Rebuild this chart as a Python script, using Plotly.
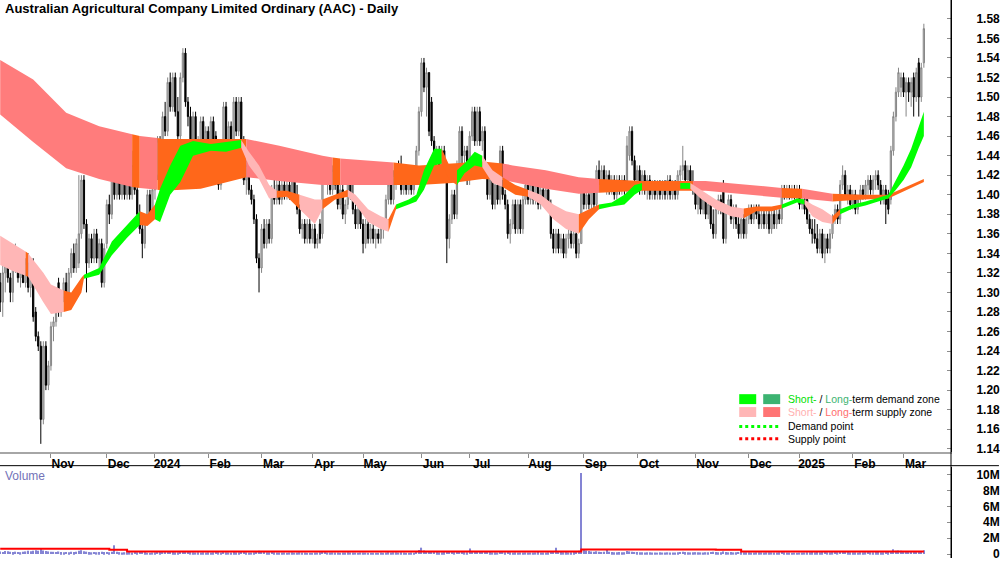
import pandas as pd
import plotly.graph_objects as go

TITLE = "Australian Agricultural Company Limited Ordinary (AAC) - Daily"

# ---------------- OHLC data (cents), one list per month: (open, high, low, close)
oct23 = [(131,132,128,129),(129,133,127.5,132),(132,134,130,133),(134,135,131,131.5),(131.5,132,129,130),
         (130,133,129,132.5),(132.5,135,132,134),(134,134.5,131,131.5),(131.5,132.5,130.5,132),(132,133,131,131),
         (131,133.5,130.5,133),(133,134,130,130.5),(130.5,133.5,129.5,133),(133,133.5,127,127.5),(128,128.5,125,125.5),
         (125.5,126,124,124.5),(124.5,125,114.5,117),(117,125,116.5,124.5),(124.5,125,120,120.5),(120.5,123,120,122.5)]
nov23 = [(122.5,127,122,126.5),(126.5,127.5,125,127),(127,130.5,126.5,130),(131,131.5,127.5,128),(128,130,127.5,129.5),
         (129.5,131.5,129,131),(131,132,129,129.5),(129.5,132.5,129,132),(132,134.5,131.5,134),(134,135,132,132.5),
         (132.5,135.5,132,135),(133,142,132.5,136),(136,142,135.5,141.5),(141.5,142,136.5,137),(137,137.5,130,133),
         (133,136,132.5,135.5),(135.5,136,133,133.5),(133.5,136.5,133,136),(136,136.5,133,133.5),(133.5,135.5,132,135),
         (135,135.5,130.5,131),(131,135,130.5,134.5)]
dec23 = [(135,139.5,134.5,139),(139,140,137,138),(138,144.5,137.5,142),(142,143,139.5,140),(140,142.5,139.5,142),
         (142,142.5,139.5,140),(140,143,139.5,141.5),(141.5,142,139.5,140),(140,143.5,139.5,141.5),(141.5,142,139.5,140),
         (140,144.5,139.5,143),(143,143.5,140,140.5),(140.5,142,137.5,138),(138,139,136,136.5),(136.5,137,133.5,135),
         (135,138,134.5,137.5),(137.5,140.5,137,140),(140,140.5,137.5,138),(138,141,137.5,140.5)]
jan24 = [(140.5,142.5,139.5,142),(142,146,141.5,145.5),(145.5,146,142,142.5),(142.5,148.5,142,148),(148,149.5,146,146.5),
         (146.5,152,146,151.5),(151.5,152.5,148.5,149),(149,152.5,148.5,152),(152,152.5,148,148.5),(148.5,150,145,146),
         (146,152.5,145.5,152),(152,155,151.5,154.5),(154.5,155,149,149.5),(149.5,150,147,148),(148,149,143,144),
         (144,148.5,143.5,148),(148,148.5,143,143.5),(143.5,146,143,145.5),(145.5,148,144.5,147.5),(147.5,148,144,144.5),
         (144.5,147,144,146.5)]
feb24 = [(146.5,147,144,145),(145,148,144.5,147.5),(147.5,148,144,145),(146,146.5,141.5,142),(142,143,140.5,141),
         (141,145.5,140.5,145),(145,149.5,144.5,149),(149,149.5,145,145.5),(145.5,147.5,144.5,147),(147,147.5,144.5,145),
         (145,150,144.5,149.5),(149.5,150,146,146.5),(146.5,150,146,149.5),(149.5,150,145,145.5),(145.5,146,141,141.5),
         (141.5,143.5,140,143),(143,143.5,140,140.5),(140.5,141,139,139.5),(139.5,140,137,137.5),(137.5,138,133,133.5),
         (133.5,134,130,132.5)]
mar24 = [(132.5,137,132,136.5),(136.5,137.5,134.5,135),(135,137.5,134.5,137),(137,137.5,135,135.5),(135.5,141,135,140.5),
         (140.5,142,139,139.5),(139.5,141.5,139,141),(141,141.5,139,139.5),(139.5,141.5,139,141),(141,142,139.5,140),
         (140,141.5,139.5,141),(141,141.5,139.5,140),(140,142.5,139.5,142),(142,142.5,139.5,140),(140,141,138,138.5),
         (138.5,139,136,136.5),(136.5,137.5,135.5,137),(137,137.5,135,135.5),(135.5,137.5,135,137),(137,137.5,135,135.5)]
apr24 = [(135.5,137,135,136.5),(136.5,137,134.5,135),(135,136,134.5,135.5),(137,137.5,135,135.5),(136,143.5,135.5,143),
         (143,143.5,141,141.5),(141.5,142.5,140,142),(142,142.5,140,140.5),(140.5,143,140,142.5),(142.5,143,140.5,141),
         (141,141.5,138.5,139),(139,141,138.5,140.5),(140.5,141,137.5,138),(138,139.5,137,139),(139,142,138.5,141.5),
         (141.5,142,139.5,140),(140,141,138,138.5),(138.5,139,136.5,137),(137,139,136.5,138.5),(138.5,139,136.5,137)]
may24 = [(137,137.5,134,135),(135,137.5,134.5,137),(137,137.5,135,135.5),(135.5,137,135,136.5),(136.5,137,135,135.5),
         (135.5,136.5,134.5,136),(136,136.5,135,135.5),(135.5,137,135,136.5),(136.5,137.5,135.5,137),(137,140,136.5,139.5),
         (139.5,141.5,139,141),(141,141.5,139,139.5),(139.5,142.5,139,142),(142,143,140.5,142.5),(142.5,143.5,141,141.5),
         (141.5,144,140,140.5),(140.5,142,140,141.5),(141.5,142,140,140.5),(140.5,142,140,141.5),(141.5,142,140,140.5),
         (140.5,142,140,141.5),(141.5,145,141,144.5),(144.5,149,144,148.5)]
jun24 = [(148.5,154,148,153.5),(153.5,154,150.5,151),(151,153,148,152.5),(152.5,152.5,146,146.5),(149.5,150,145,145.5),
         (145.5,146,143,144),(144,145,141.5,144.5),(144.5,145,142,142.5),(142.5,145,142,144.5),(144.5,145,141.5,142),
         (142,142.5,133,135.5),(135.5,138,134.5,137.5),(137.5,140.5,137,140),(140,140.5,137.5,138),(138,143.5,137.5,143),
         (143,147,142.5,146.5),(146.5,147,143,144),(144,145,142,144.5),(144.5,145,141,141.5)]
jul24 = [(141.5,146.5,141,146),(146,149,145.5,148.5),(148.5,149,145,145.5),(145.5,149,145,148.5),(148.5,149,145,145.5),
         (145.5,147,144.5,146.5),(146.5,147,142,142.5),(142.5,143,139.5,140),(140,142,139.5,141.5),(141.5,141.5,138.5,139),
         (139,141.5,138.5,141),(141,141.5,139,139.5),(139.5,145,139,144.5),(144.5,145,139.5,140),(140,140.5,138.5,139),
         (139,139.5,135.5,136),(136,137.5,135,137),(137,139.5,136.5,139),(139,139.5,136,136.5),(136.5,139.5,136,139),
         (139,139.5,136,136.5),(136.5,140,136,139.5),(139.5,141.5,139,141)]
aug24 = [(141,141.5,139,139.5),(139.5,141.5,139,141),(141,141.5,139,139.5),(139.5,142,139,141.5),(142,142.5,138.5,139),
         (139,141,138.5,140.5),(140.5,141,139,139.5),(139.5,141,139,140.5),(140.5,141,138.5,139),(139,139.5,135.5,136),
         (136,136.5,134,134.5),(134.5,136.5,134,136),(136,136.5,134,134.5),(134.5,136,134,135.5),(135.5,136,133.5,134),
         (134,136,133.5,135.5),(135.5,136.5,134.5,136),(136,136.5,134.5,135),(135,136.5,134.5,136),(136,136.5,133.5,134),
         (134,135.5,133.5,135),(135,141.5,135,141)]
sep24 = [(141,141.5,138.5,139),(139,140.5,138.5,140),(140,140.5,138.5,139),(139,141,138.5,140.5),(140.5,141,138.5,139),
         (139,143,138.5,142.5),(142.5,143.5,141,141.5),(141.5,143,141,142.5),(142.5,143,140.5,141),(141,142.5,140,142),
         (142,142.5,140,140.5),(140.5,142,140,141.5),(141.5,142,139.5,140),(140,142,139.5,141.5),(141.5,142,140,140.5),
         (140.5,142,140,141.5),(141.5,142,140,140.5),(140.5,146,140,145),(144,147,143.5,146.5),(146.5,147,143,143.5),
         (143.5,144,141,141.5)]
oct24 = [(141.5,143,141,142.5),(142.5,143,140,140.5),(140.5,142.5,140,142),(142,142.5,140,140.5),(140.5,142,139.5,141.5),
         (141.5,142,139.5,140),(140,141.5,139.5,141),(141,141.5,139.5,140),(140,141.5,139.5,141),(141,141.5,139.5,140),
         (140,141.5,139.5,141),(141,141.5,139.5,140),(140,142,139.5,141.5),(141.5,142,139.5,140),(140,141.5,139.5,141),
         (141,141.5,139.5,140),(140,142.5,139.5,142),(142,143,141,142.5),(142.5,145,141.5,143),(143,143.5,141,141.5),
         (141.5,143,141,142.5),(142.5,143,140.5,141),(141,142.5,140,140.5)]
nov24 = [(140.5,141,138.5,139),(139,140.5,138,140),(140,140.5,138,138.5),(138.5,140,138,139.5),(139.5,140,137.5,138),
         (138,139.5,137.5,139),(139,139.5,136.5,137),(137,138.5,135.5,136),(136,139,135.5,138.5),(138.5,140,138,139.5),
         (139.5,140,138,138.5),(141,141.5,135,135.5),(135.5,139,135,138.5),(138.5,140,138,139.5),(139.5,140,137,137.5),
         (137.5,139,136.5,138.5),(138.5,139,136.5,137),(137,138,135.5,136),(136,138,135.5,137.5),(137.5,138,135.5,136),
         (136,138,135.5,137.5)]
dec24 = [(137.5,139,137,138.5),(138.5,139,137,137.5),(137.5,139,137,138.5),(138.5,139,137.5,138),(138,139,136.5,137),
         (137,138.5,136.5,138),(138,138.5,136.5,137),(137,138.5,136.5,138),(138,138.5,136,136.5),(136.5,138.5,136,138),
         (138,138.5,136.5,137),(137,138.5,136.5,138),(138,138.5,137,137.5),(137.5,141,137,140.5),(140.5,141,139.5,140),
         (140,141,139.5,140.5),(140.5,141,139.5,140),(140,141,139.5,140.5),(140.5,141,139.5,140),(140,141,139.5,140.5)]
jan25 = [(140.5,141,138.5,139),(139,140,138.5,139.5),(139.5,140,138,138.5),(139.5,140,137,137.5),(137.5,138,136,136.5),
         (136.5,137.5,135,136),(136,137.5,135,135.5),(135.5,137,134,134.5),(134.5,136.5,134,136),(136,136.5,133.5,134),
         (134,136,133,135.5),(135.5,136,134,134.5),(134.5,136.5,134,136),(136,138,135.5,137.5),(137.5,139,137,138.5),
         (138.5,139,137,137.5),(137.5,141.5,137,141),(141,143,140.5,142),(142,142.5,139.5,140),(140,141,139,140.5),
         (140.5,141,138.5,139)]
feb25 = [(139,140.5,138.5,140),(140,140.5,138,138.5),(138.5,140,138,139.5),(139.5,141,139,140.5),(140.5,141,139.5,140),
         (140,141.5,139.5,141),(141,142,140,141.5),(141.5,142,140,140.5),(140.5,142,140,141.5),(141.5,142.5,140.5,142),
         (142,142.5,140.5,141),(141,141.5,139,139.5),(139.5,141,139,140.5),(140.5,141,137,139),(140,140.5,138,138.5),
         (139.5,145,139,144.5),(144.5,148.5,144,148),(148,151,147.5,150.5),(150.5,153,150,152.5),(151,152.5,150,152)]
mar25 = [(152,152.5,150,150.5),(150.5,152,148,151.5),(151.5,152,149.5,150.5),(150.5,152,149,151.5),(152,152.5,148,150),
         (150,153,149.5,152.5),(153.5,154,148,150),(150,153.5,149.5,153),(153.5,157.5,153,157)]

# ---------------- Volume (thousands of shares)
vol_oct23 = [310,260,380,340,290,250,300,270,230,280,330,400,360,420,470,410,620,450,380,330]
vol_nov23 = [300,280,260,320,240,230,260,220,300,250,280,420,480,350,300,240,220,260,230,250,300,240]
vol_dec23 = [260,220,300,1100,280,240,200,230,210,250,200,260,230,280,300,250,180,160,200]
vol_jan24 = [220,260,240,300,280,320,260,240,230,210,280,350,300,260,240,220,200,210,190,230,200]
vol_feb24 = [210,190,220,260,240,200,280,230,210,200,240,220,210,260,280,230,200,190,210,330,400]
vol_mar24 = [300,260,220,210,280,230,200,190,180,200,170,190,210,180,200,230,190,180,170,160]
vol_apr24 = [170,180,190,230,380,260,200,190,210,180,200,170,190,180,210,190,200,180,170,190]
vol_may24 = [200,180,170,160,150,170,160,180,170,190,230,200,220,210,190,230,180,170,160,180,170,300,500]
vol_jun24 = [800,450,380,330,300,280,250,230,220,240,350,280,260,240,300,320,260,240,230]
vol_jul24 = [700,380,300,320,280,260,270,300,240,220,210,200,300,260,230,280,220,200,210,190,200,180,210]
vol_aug24 = [200,190,180,210,240,200,190,180,210,260,300,800,260,240,230,250,220,230,250,300,420,10200]
vol_sep24 = [600,450,380,320,300,350,280,260,300,500,280,250,230,220,240,210,230,380,330,280,260]
vol_oct24 = [240,220,210,200,230,210,190,200,180,210,190,200,220,190,180,200,230,260,300,240,220,210,230]
vol_nov24 = [240,220,210,200,230,220,260,280,240,220,210,330,250,220,240,210,230,260,240,220,230]
vol_dec24 = [210,200,190,220,230,210,200,220,230,210,200,190,220,280,230,200,180,150,170,160]
vol_jan25 = [180,190,200,220,230,240,220,250,230,240,260,230,220,250,260,240,300,280,260,240,230]
vol_feb25 = [220,210,200,230,220,240,260,230,220,250,240,230,220,260,240,380,600,420,450,400]
vol_mar25 = [350,320,300,310,340,300,380,330,480]

# volume average line (step), millions, at trading-day index
vol_avg_idx = [0, 43, 50, 229, 282, 292, 364]
vol_avg_val = [0.65, 0.55, 0.33, 0.58, 0.55, 0.33, 0.33]

# ---------------- Zones (cents) at trading-day index knots
long_idx = [0,13,26,39,52,55,62,64,79,97,110,127,131,134,152,155,165,178,190,198,202,215,228,236,253,273,278,291,304,308,316,328,340,350,364]
long_top = [153.8,151.8,148.4,147.0,146.2,146.0,145.8,145.7,145.7,145.7,145.0,144.0,143.8,143.7,143.4,143.3,143.0,143.2,143.4,143.2,
            143.0,142.5,141.8,141.6,141.4,141.4,141.4,141.1,140.8,140.7,140.6,140.1,140.0,140.0,141.6]
long_bot = [148.2,145.4,142.7,141.6,140.8,140.7,140.5,140.4,140.6,141.8,141.4,141.0,141.0,141.0,141.0,141.0,141.0,141.2,141.6,141.5,
            141.3,140.6,140.1,140.2,140.4,140.4,140.4,140.1,139.8,139.7,139.6,139.3,139.5,139.6,141.3]
long_state = "SSSSOSOOOSSSOSSOOOOSSSSOOSSSSOSOOO-"

short_idx = [0,5,10,11,17,20,25,28,32,33,39,44,50,55,58,61,63,67,71,76,83,89,95,98,102,106,109,113,118,124,127,132,137,140,145,
             150,153,156,161,164,167,171,174,177,180,183,187,190,194,198,203,208,213,218,223,228,232,236,241,246,250,253,265,268,272,
             276,282,288,293,298,304,308,314,317,320,324,328,331,336,341,346,350,353,356,359,362,364]
short_top = [135.8,135.0,134.2,134.0,132.0,130.8,130.2,130.0,131.5,131.8,132.5,135.2,136.9,138.3,138.0,139.0,140.6,143.0,145.0,145.5,
             145.2,145.4,145.6,144.4,143.0,141.0,140.4,140.4,140.0,139.5,139.5,140.0,140.5,140.0,138.5,137.8,137.5,139.0,139.5,140.0,
             142.5,144.7,144.7,143.0,142.5,143.2,144.4,144.0,142.5,141.8,141.0,140.5,140.0,139.0,138.3,138.0,138.5,139.0,139.2,140.0,
             141.0,141.2,141.0,141.2,141.2,140.5,139.5,138.8,138.6,138.8,138.8,139.0,139.6,139.5,139.0,138.5,137.8,138.5,139.0,139.3,
             139.7,140.0,141.5,143.0,144.7,147.0,148.5]
short_bot = [132.8,132.2,131.7,131.6,129.0,127.8,128.0,128.2,130.0,131.4,131.8,133.8,135.6,136.9,136.8,137.5,137.2,140.0,141.3,144.0,
             144.5,144.4,144.8,143.0,141.6,139.6,139.7,139.8,138.5,137.0,138.5,139.5,139.8,139.0,137.2,136.5,136.2,138.5,139.0,139.3,
             140.5,143.0,143.2,141.5,141.0,142.2,143.0,142.8,141.2,140.8,140.0,139.8,139.0,137.5,136.5,136.0,137.5,138.5,138.8,139.0,
             140.0,140.5,140.4,140.6,140.6,139.6,138.5,137.8,137.6,138.3,138.3,138.6,139.2,139.0,137.8,137.2,137.0,138.0,138.6,138.9,
             139.3,139.6,140.5,141.5,142.8,144.8,146.0]
short_state = "PPOPPPOOOGGGGOOGGGGGGGPPPPOOPPOOPPPPOGGGGGOOGGGPPOOPPPPOOGGGGOOGPPPPOOOGGPPPOGGGGGGGGG-"

tick_labels = ["Nov", "Dec", "2024", "Feb", "Mar", "Apr", "May", "Jun", "Jul", "Aug",
               "Sep", "Oct", "Nov", "Dec", "2025", "Feb", "Mar"]
price_ticks = [1.14, 1.16, 1.18, 1.20, 1.22, 1.24, 1.26, 1.28, 1.30, 1.32, 1.34, 1.36,
               1.38, 1.40, 1.42, 1.44, 1.46, 1.48, 1.50, 1.52, 1.54, 1.56, 1.58]
vol_ticks = [0, 2e6, 4e6, 6e6, 8e6, 10e6]
vol_tick_text = ["\u2007\u2007\u20080", "\u20072M", "\u20074M", "\u20076M", "\u20078M", "10M"]

# ---------------- assemble
months = [oct23, nov23, dec23, jan24, feb24, mar24, apr24, may24, jun24, jul24, aug24, sep24,
          oct24, nov24, dec24, jan25, feb25, mar25]
vmonths = [vol_oct23, vol_nov23, vol_dec23, vol_jan24, vol_feb24, vol_mar24, vol_apr24, vol_may24, vol_jun24,
           vol_jul24, vol_aug24, vol_sep24, vol_oct24, vol_nov24, vol_dec24, vol_jan25, vol_feb25, vol_mar25]
rows = [r for m in months for r in m]
vols = [v * 1000 for m in vmonths for v in m]
o = [r[0] / 100 for r in rows]
h = [r[1] / 100 for r in rows]
l = [r[2] / 100 for r in rows]
c = [r[3] / 100 for r in rows]

holidays = pd.to_datetime(["2023-12-25", "2023-12-26", "2024-01-01", "2024-01-26", "2024-03-29", "2024-04-01",
                           "2024-04-25", "2024-06-10", "2024-12-25", "2024-12-26", "2025-01-01", "2025-01-27"])
dates = pd.bdate_range("2023-10-04", "2025-03-13")
dates = dates[~dates.isin(holidays)]
n = len(rows)
assert len(dates) == n == len(vols), (len(dates), n, len(vols))
xs = list(range(n))
tick_pos = [k for k in range(1, n) if dates[k].month != dates[k - 1].month]

COL = {"S": "#FF7C7C", "O": "#FF671A", "G": "#00FF00", "P": "#FFB6B6"}

fig = go.Figure()


def add_band(idx, top, bot, states):
    k = 0
    m = len(idx) - 1
    while k < m:
        s = states[k]
        j = k
        while j + 1 < m and states[j + 1] == s:
            j += 1
        xx = idx[k:j + 2]
        yt = [v / 100 for v in top[k:j + 2]]
        yb = [v / 100 for v in bot[k:j + 2]]
        fig.add_trace(go.Scatter(x=xx + xx[::-1], y=yt + yb[::-1], fill="toself", mode="lines",
                                 line=dict(width=0, color=COL[s]), fillcolor=COL[s],
                                 hoverinfo="skip", showlegend=False, xaxis="x", yaxis="y"))
        k = j + 1


add_band(long_idx, long_top, long_bot, long_state)
add_band(short_idx, short_top, short_bot, short_state)

fig.add_trace(go.Candlestick(x=xs, open=o, high=h, low=l, close=c,
                             increasing=dict(line=dict(color="#858585", width=1), fillcolor="#C9C9C9"),
                             decreasing=dict(line=dict(color="#000000", width=1), fillcolor="#000000"),
                             whiskerwidth=0, showlegend=False, hoverinfo="skip", xaxis="x", yaxis="y"))

fig.add_trace(go.Bar(x=xs, y=vols, marker=dict(color="#8484D4", line=dict(width=0)), width=0.5,
                     showlegend=False, hoverinfo="skip", xaxis="x2", yaxis="y2"))
fig.add_trace(go.Scatter(x=vol_avg_idx, y=[v * 1e6 for v in vol_avg_val], mode="lines",
                         line=dict(color="#FF0000", width=2, shape="hv"),
                         showlegend=False, hoverinfo="skip", xaxis="x2", yaxis="y2"))

FONT = "Liberation Sans Narrow, Arial Narrow, Liberation Sans, Arial"
W, H, PR = 1000, 562, 952
main_bottom = 455
vol_top = 470

fig.update_layout(
    width=W, height=H, margin=dict(l=0, r=W - PR, t=0, b=0),
    paper_bgcolor="white", plot_bgcolor="white",
    font=dict(family=FONT, size=12, color="black"),
    xaxis=dict(domain=[0, 1], range=[-0.08, 374.7], anchor="y",
               tickmode="array", tickvals=tick_pos, ticktext=tick_labels,
               ticks="outside", ticklen=4, tickcolor="#8C8C8C", ticklabelshift=12, ticklabelstandoff=-4,
               showline=True, linecolor="#A6A6A6", linewidth=2, showgrid=False, zeroline=False,
               tickfont=dict(family=FONT, size=12, color="black", weight="bold"),
               rangeslider=dict(visible=False)),
    yaxis=dict(domain=[1 - main_bottom / H, 1], range=[1.1369, 1.5993], anchor="x", side="right",
               tickmode="array", tickvals=price_ticks, tickformat=".2f",
               ticks="inside", ticklen=4, tickcolor="#8C8C8C", ticklabelstandoff=22,
               showline=True, linecolor="black", linewidth=1, showgrid=False, zeroline=False,
               tickfont=dict(family=FONT, size=12, color="black", weight="bold")),
    xaxis2=dict(domain=[0, 1], anchor="y2", matches="x", showticklabels=False, ticks="",
                showline=False, showgrid=False, zeroline=False, rangeslider=dict(visible=False)),
    yaxis2=dict(domain=[0, 1 - vol_top / H], range=[-0.5e6, 11e6], anchor="x2", side="right",
                tickmode="array", tickvals=vol_ticks, ticktext=vol_tick_text,
                ticks="inside", ticklen=4, tickcolor="#8C8C8C", ticklabelstandoff=22,
                showline=True, linecolor="black", linewidth=1, showgrid=False, zeroline=False,
                tickfont=dict(family=FONT, size=12, color="black", weight="bold")),
)


def px(x):
    return x / PR


def py(y):
    return 1 - y / H


shapes = [
    dict(type="line", xref="paper", yref="paper", x0=0, x1=px(W), y0=py(469), y1=py(469),
         line=dict(color="black", width=1)),
    dict(type="line", xref="paper", yref="paper", x0=1, x1=1, y0=0, y1=1, line=dict(color="black", width=1)),
    # legend swatches
    dict(type="rect", xref="paper", yref="paper", x0=px(740), x1=px(757), y0=py(407), y1=py(397),
         fillcolor="#00FF00", line=dict(width=0)),
    dict(type="rect", xref="paper", yref="paper", x0=px(764), x1=px(781), y0=py(407), y1=py(397),
         fillcolor="#3CB371", line=dict(width=0)),
    dict(type="rect", xref="paper", yref="paper", x0=px(740), x1=px(757), y0=py(420), y1=py(410),
         fillcolor="#FFB6B6", line=dict(width=0)),
    dict(type="rect", xref="paper", yref="paper", x0=px(764), x1=px(781), y0=py(420), y1=py(410),
         fillcolor="#FF7474", line=dict(width=0)),
    dict(type="line", xref="paper", yref="paper", x0=px(740), x1=px(781), y0=py(429.5), y1=py(429.5),
         line=dict(color="#00FF00", width=3, dash="dot")),
    dict(type="line", xref="paper", yref="paper", x0=px(740), x1=px(781), y0=py(442), y1=py(442),
         line=dict(color="#FF0000", width=3, dash="dot")),
]

LEG = 10.5
ann = [
    dict(text="<b>" + TITLE + "</b>", x=px(3), y=py(9), font=dict(size=13, color="black")),
    dict(text="Volume", x=px(3), y=py(479), font=dict(size=12, color="#7373B8")),
    dict(text='<span style="color:#00E000">Short-</span> / <span style="color:#3CB371">Long-</span>term demand zone',
         x=px(787), y=py(402), font=dict(size=LEG, color="black")),
    dict(text='<span style="color:#FFB0B0">Short-</span> / <span style="color:#FF6E6E">Long-</span>term supply zone',
         x=px(787), y=py(415), font=dict(size=LEG, color="black")),
    dict(text="Demand point", x=px(787), y=py(429.5), font=dict(size=LEG, color="black")),
    dict(text="Supply point", x=px(787), y=py(442), font=dict(size=LEG, color="black")),
]
for a in ann:
    a.update(xref="paper", yref="paper", xanchor="left", yanchor="middle", showarrow=False)
    a["font"].setdefault("family", FONT)

fig.update_layout(shapes=shapes, annotations=ann)
fig.write_html("out.html")
